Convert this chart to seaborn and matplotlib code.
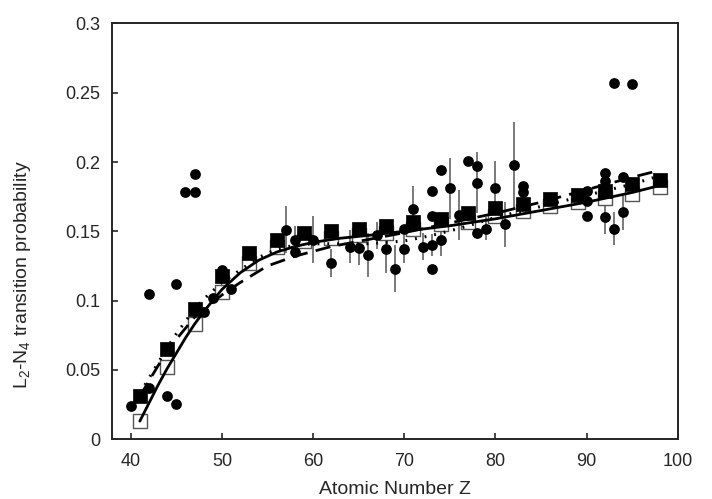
import numpy as np
import pandas as pd
import matplotlib
matplotlib.use("Agg")
import matplotlib.pyplot as plt
import seaborn as sns
from matplotlib.ticker import FuncFormatter

# theory points (every 3rd Z)
z_th = [41, 44, 47, 50, 53, 56, 59, 62, 65, 68, 71, 74, 77, 80, 83, 86, 89, 92, 95, 98]
p_filled = [0.031, 0.065, 0.094, 0.118, 0.134, 0.144, 0.149, 0.150, 0.152, 0.154,
            0.157, 0.159, 0.163, 0.167, 0.170, 0.173, 0.176, 0.179, 0.184, 0.187]
p_open = [0.013, 0.052, 0.083, 0.106, 0.127, 0.139, 0.143, 0.145, 0.147, 0.149,
          0.152, 0.155, 0.157, 0.161, 0.165, 0.168, 0.171, 0.174, 0.177, 0.182]

# fitted curves
z_solid = [41, 42, 43, 44, 45, 46, 47, 48, 49, 50, 52, 54, 56, 58, 60, 63, 66, 70, 75, 80, 85, 90, 95, 98]
p_solid = [0.013, 0.026, 0.039, 0.051, 0.062, 0.073, 0.083, 0.092, 0.100, 0.108, 0.120, 0.129,
           0.135, 0.139, 0.142, 0.145, 0.147, 0.150, 0.154, 0.159, 0.165, 0.171, 0.178, 0.183]
z_dash = [41, 42, 43, 44, 45, 46, 47, 48, 50, 52, 55, 58, 62, 66, 70, 75, 80, 85, 90, 95, 98]
p_dash = [0.031, 0.042, 0.053, 0.063, 0.072, 0.080, 0.088, 0.094, 0.104, 0.113, 0.125, 0.132,
          0.139, 0.144, 0.149, 0.156, 0.163, 0.171, 0.180, 0.189, 0.194]
z_dot = [41, 42, 43, 44, 45, 46, 47, 48, 50, 52, 54, 56, 58, 60, 63, 66, 70, 73, 76, 80, 85, 90, 95, 98]
p_dot = [0.033, 0.044, 0.055, 0.066, 0.076, 0.085, 0.094, 0.101, 0.113, 0.122, 0.131, 0.137,
         0.140, 0.141, 0.141, 0.141, 0.143, 0.147, 0.152, 0.160, 0.168, 0.176, 0.184, 0.190]

# experimental values
z_exp = [40, 42, 42, 44, 45, 45, 46, 47, 47, 48, 49, 50, 50, 51, 57, 58, 58, 60, 62, 64,
         65, 66, 67, 68, 69, 70, 70, 71, 72, 73, 73, 73, 73, 74, 74, 75, 76, 77, 78, 78,
         78, 79, 80, 81, 82, 83, 83, 90, 90, 90, 92, 92, 92, 92, 93, 93, 94, 94, 95]
p_exp = [0.024, 0.037, 0.105, 0.031, 0.025, 0.112, 0.178, 0.178, 0.191, 0.092, 0.102, 0.122,
         0.117, 0.108, 0.151, 0.144, 0.135, 0.144, 0.127, 0.139, 0.138, 0.133, 0.147, 0.137,
         0.123, 0.137, 0.152, 0.166, 0.139, 0.179, 0.161, 0.140, 0.123, 0.194, 0.144, 0.181,
         0.162, 0.201, 0.197, 0.185, 0.149, 0.152, 0.181, 0.155, 0.198, 0.183, 0.178, 0.179,
         0.172, 0.161, 0.192, 0.186, 0.181, 0.160, 0.257, 0.152, 0.189, 0.164, 0.256]
err_exp = [0, 0, 0, 0, 0, 0, 0, 0, 0, 0, 0, 0, 0, 0, 0.017, 0.010, 0, 0.017, 0.010, 0.012,
           0.012, 0.016, 0.010, 0.017, 0.017, 0.010, 0, 0.017, 0.010, 0, 0, 0.008, 0, 0, 0.012,
           0.022, 0.018, 0, 0, 0.022, 0, 0.008, 0.020, 0.016, 0.031, 0, 0, 0, 0, 0, 0, 0, 0,
           0.012, 0, 0.012, 0, 0.013, 0]

exp = pd.DataFrame({"Z": z_exp, "P": p_exp, "err": err_exp})
th = pd.DataFrame({"Z": z_th, "filled": p_filled, "open": p_open})

sns.set_style("ticks")
plt.rcParams["font.family"] = ["Liberation Sans", "DejaVu Sans"]
plt.rcParams["mathtext.fontset"] = "custom"
plt.rcParams["mathtext.rm"] = "Liberation Sans"
plt.rcParams["mathtext.it"] = "Liberation Sans:italic"

fig = plt.figure(figsize=(7.12, 4.99), dpi=100)
ax = fig.add_axes([0.158, 0.120, 0.794, 0.833])

bars = exp[exp["err"] > 0]
ax.errorbar(bars["Z"], bars["P"], yerr=bars["err"], fmt="none", ecolor="#7a7a7a",
            elinewidth=1.4, capsize=0, zorder=1)

sns.scatterplot(data=th, x="Z", y="open", marker="s", s=110, facecolor="white",
                edgecolor="#555555", linewidth=1.0, ax=ax, zorder=2)
sns.scatterplot(data=th, x="Z", y="filled", marker="s", s=110, color="black",
                edgecolor="black", linewidth=0.5, ax=ax, zorder=3)

sns.lineplot(x=z_solid, y=p_solid, color="black", lw=2.0, ax=ax, zorder=4)
sns.lineplot(x=z_dash, y=p_dash, color="black", lw=2.0, ax=ax, zorder=4,
             dashes=False, linestyle=(0, (5.5, 3)))
sns.lineplot(x=z_dot, y=p_dot, color="black", lw=2.2, ax=ax, zorder=4,
             dashes=False, linestyle=(0, (0.6, 2.6)))

sns.scatterplot(data=exp, x="Z", y="P", marker="o", s=60, color="black",
                edgecolor="black", linewidth=0, ax=ax, zorder=5)

ax.set_xlim(38, 100)
ax.set_ylim(0, 0.3)
ax.set_xticks([40, 50, 60, 70, 80, 90, 100])
ax.set_yticks([0, 0.05, 0.1, 0.15, 0.2, 0.25, 0.3])
ax.yaxis.set_major_formatter(FuncFormatter(lambda v, p: ("%g" % round(v, 3))))
ax.tick_params(direction="in", length=4, width=1.2, labelsize=13, top=False, right=False)
ax.tick_params(axis="y", pad=9)
ax.tick_params(axis="x", pad=10)
for sp in ax.spines.values():
    sp.set_linewidth(1.4)
    sp.set_visible(True)

ax.set_xlabel("Atomic Number Z", fontsize=14, labelpad=8)
ax.set_ylabel("L$_2$-N$_4$ transition probability", fontsize=14)
ax.yaxis.set_label_coords(-0.14, 0.395)

fig.savefig("out.png", dpi=100)
